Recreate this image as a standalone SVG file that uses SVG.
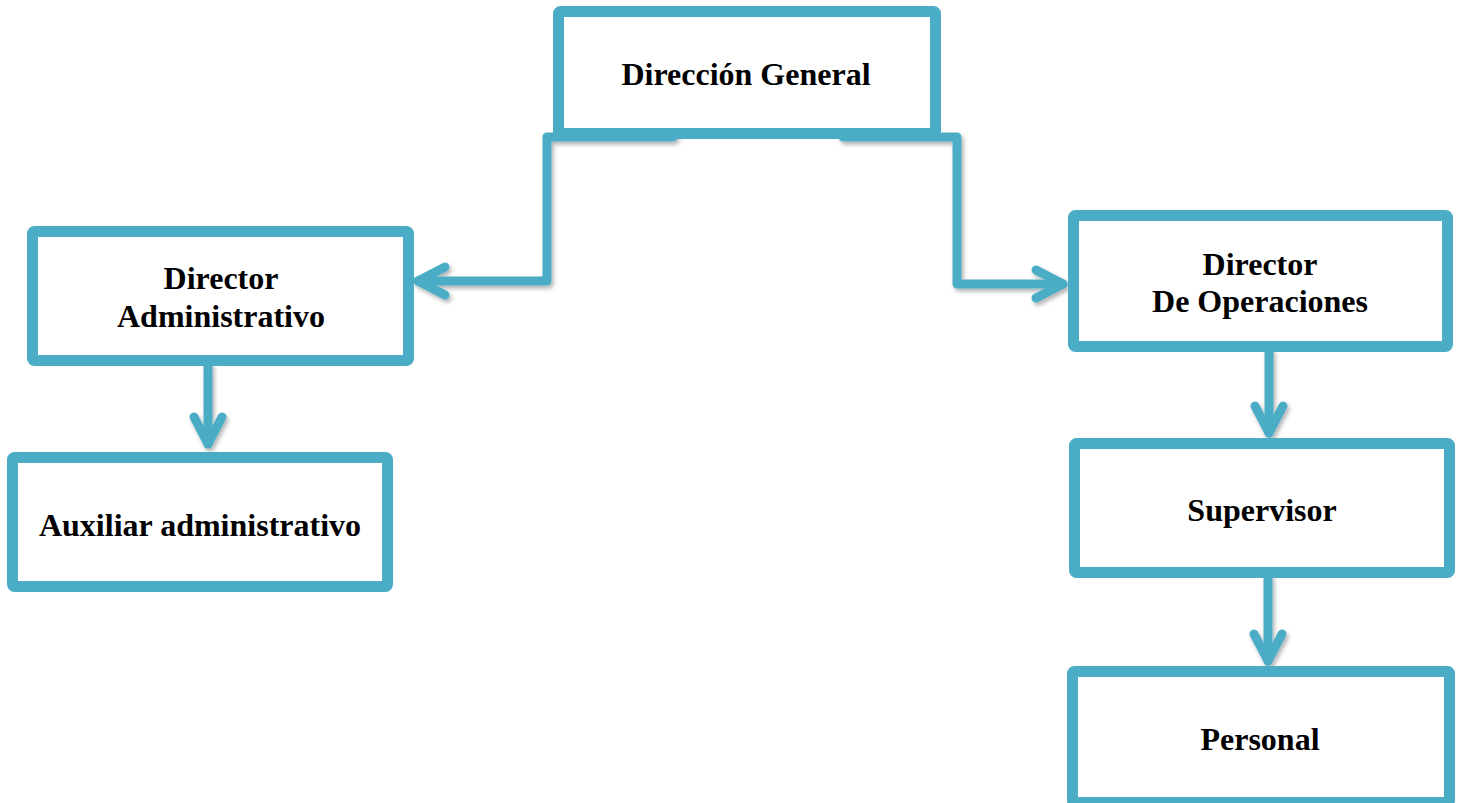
<svg xmlns="http://www.w3.org/2000/svg" width="1465" height="803" viewBox="0 0 1465 803">
  <style>
    .box { fill: #ffffff; stroke: #4BACC6; stroke-width: 11; stroke-linejoin: round; }
    .link { fill: none; stroke: #4BACC6; stroke-width: 9; stroke-linecap: round; stroke-linejoin: round; }
    .label { font-family: "Liberation Serif", "Times New Roman", serif; font-weight: bold; font-size: 32px; fill: #000000; text-anchor: middle; }
  </style>
  <defs>
    <filter id="shadow" x="-10%" y="-10%" width="130%" height="130%">
      <feDropShadow dx="2" dy="3" stdDeviation="2" flood-color="#000000" flood-opacity="0.3"/>
    </filter>
    <marker id="chevron" viewBox="-40 -24 48 48" markerWidth="48" markerHeight="48" refX="0" refY="0" orient="auto" markerUnits="userSpaceOnUse" overflow="visible">
      <path d="M-27,-14 L0,0 L-27,14" fill="none" stroke="#4BACC6" stroke-width="9" stroke-linecap="round" stroke-linejoin="round"/>
    </marker>
  </defs>

  <rect width="1465" height="803" fill="#ffffff"/>

  <!-- connectors -->
  <g id="connectors" filter="url(#shadow)">
    <path class="link" d="M673,137 H547 V281 H418" marker-end="url(#chevron)"/>
    <path class="link" d="M843,137 H957 V284 H1063" marker-end="url(#chevron)"/>
    <path class="link" d="M208,366 V444" marker-end="url(#chevron)"/>
    <path class="link" d="M1269,352 V433" marker-end="url(#chevron)"/>
    <path class="link" d="M1268,578 V661" marker-end="url(#chevron)"/>
  </g>

  <!-- nodes -->
  <g id="direccion-general">
    <rect class="box" x="558.5" y="11.5" width="377" height="122" rx="2"/>
    <text class="label" x="746" y="85">Dirección General</text>
  </g>

  <g id="director-administrativo">
    <rect class="box" x="32.5" y="231.5" width="376" height="129" rx="2"/>
    <text class="label" x="221" y="289">Director</text>
    <text class="label" x="221" y="327">Administrativo</text>
  </g>

  <g id="auxiliar-administrativo">
    <rect class="box" x="12.5" y="457.5" width="375" height="129" rx="2"/>
    <text class="label" x="200" y="536">Auxiliar administrativo</text>
  </g>

  <g id="director-operaciones">
    <rect class="box" x="1073.5" y="215.5" width="374" height="131" rx="2"/>
    <text class="label" x="1260" y="275">Director</text>
    <text class="label" x="1260" y="312">De Operaciones</text>
  </g>

  <g id="supervisor">
    <rect class="box" x="1074.5" y="443.5" width="375" height="129" rx="2"/>
    <text class="label" x="1262" y="521">Supervisor</text>
  </g>

  <g id="personal">
    <rect class="box" x="1072.5" y="671.5" width="377" height="131" rx="2"/>
    <text class="label" x="1260" y="750">Personal</text>
  </g>
</svg>
